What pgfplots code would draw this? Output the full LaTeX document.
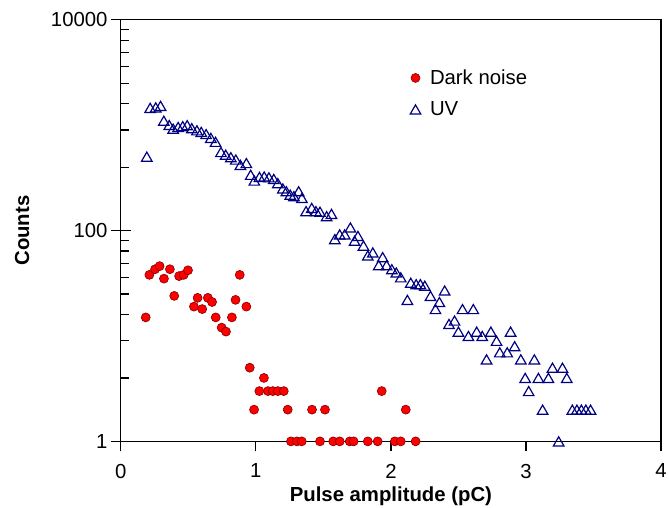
\documentclass[border=0pt]{standalone}
\usepackage{fontspec}
\setmainfont{Liberation Sans}
\usepackage{pgfplots}
\pgfplotsset{compat=1.18}
\definecolor{darkred}{HTML}{FF0000}
\definecolor{darkedge}{HTML}{8B0000}
\definecolor{uvblue}{HTML}{000080}

% dark noise spectrum
\pgfplotstableread{
x      y
0.185  15
0.212  38
0.254  43
0.288  46
0.320  35
0.364  43
0.396  24
0.432  37
0.466  38
0.498  42
0.542  19
0.569  23
0.603  18
0.645  23
0.676  21
0.703  15
0.747  12
0.779  11
0.823  15
0.850  22
0.881  38
0.930  19
0.955  5
0.987  2
1.026  3
1.060  4
1.090  3
1.126  3
1.163  3
1.207  3
1.236  2
1.260  1
1.304  1
1.340  1
1.416  2
1.475  1
1.512  2
1.573  1
1.621  1
1.695  1
1.724  1
1.829  1
1.902  1
1.932  3
2.029  1
2.073  1
2.110  2
2.183  1
}\darknoise

% UV spectrum
\pgfplotstableread{
x      y
0.193  503
0.218  1460
0.259  1476
0.295  1524
0.319  1102
0.359  1004
0.388  927
0.425  962
0.459  979
0.492  1000
0.526  937
0.564  894
0.596  863
0.632  823
0.667  758
0.702  695
0.742  556
0.777  525
0.815  497
0.852  472
0.886  420
0.930  437
0.962  338
0.989  298
1.027  323
1.062  326
1.097  320
1.133  309
1.163  282
1.200  251
1.226  236
1.255  219
1.282  212
1.317  236
1.341  204
1.372  153
1.414  164
1.445  153
1.475  151
1.524  137
1.560  144
1.585  83
1.621  92
1.658  92
1.700  107
1.731  80
1.756  89
1.797  72
1.829  58
1.866  62
1.910  47
1.939  56
1.968  47
2.007  43
2.040  40
2.073  36
2.122  22
2.147  32
2.187  31
2.218  31
2.251  30
2.293  24
2.330  18
2.359  21
2.398  27
2.430  13
2.471  14
2.500  11
2.530  18
2.574  10
2.610  18
2.635  11
2.676  10
2.708  6
2.740  11
2.782  9
2.806  7
2.861  7
2.886  11
2.916  8
2.962  6
2.994  4
3.020  3
3.062  6
3.092  4
3.123  2
3.166  4
3.196  5
3.242  1
3.270  5
3.302  4
3.343  2
3.377  2
3.410  2
3.443  2
3.478  2
}\uv

\begin{document}
\begin{tikzpicture}
\useasboundingbox (-91.5pt,-50.25pt) rectangle (415.5pt,334.5pt);
\begin{axis}[
    scale only axis,
    width=409.5pt, height=319.5pt,
    ymode=log,
    xmin=0, xmax=4,
    ymin=1, ymax=10000,
    xtick={0,1,2,3,4},
    xticklabels={0,1,2,3,4},
    ytick={1,100,10000},
    yticklabels={1,100,10000},
    minor ytick={4,9,16,25,36,49,64,81,400,900,1600,2500,3600,4900,6400,8100},
    extra y ticks={1,100,10000},
    extra y tick labels={},
    extra y tick style={ytick align=outside},
    xtick pos=bottom, ytick pos=left,
    xtick align=outside, ytick align=inside,
    major tick length=7.5pt, minor tick length=6pt,
    tick style={black, line width=0.9pt},
    axis line style={line width=0.9pt},
    ticklabel style={font=\fontsize{15.4}{18}\selectfont},
    xticklabel style={yshift=-6pt},
    yticklabel style={xshift=-6.5pt},
    xlabel={\textbf{Pulse amplitude (pC)}},
    ylabel={\textbf{Counts}},
    label style={font=\fontsize{15.4}{18}\selectfont},
    xlabel style={yshift=0.5pt},
    ylabel style={yshift=2pt},
    legend style={draw=none, fill=none, at={(0.528,0.895)}, anchor=north west,
        font=\fontsize{15.4}{18}\selectfont, row sep=7.5pt, column sep=5pt},
    legend cell align=left,
]
\addplot[only marks, mark=*, mark size=3.4pt,
    mark options={fill=darkred, draw=darkedge, line width=0.5pt}]
    table[x=x, y=y] {\darknoise};
\addlegendentry{Dark noise}
\addplot[only marks, mark=triangle, mark size=4.6pt,
    mark options={draw=uvblue, line width=0.9pt, yshift=-1.15pt}]
    table[x=x, y=y] {\uv};
\addlegendentry{UV}
\end{axis}
\end{tikzpicture}
\end{document}
